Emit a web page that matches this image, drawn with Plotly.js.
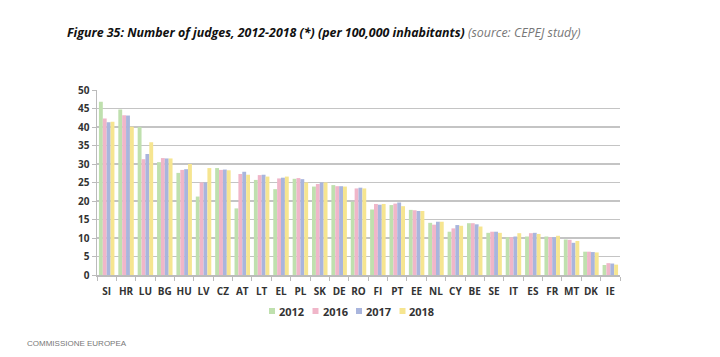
<!DOCTYPE html>
<html>
<head>
<meta charset="utf-8">
<script src="https://cdn.plot.ly/plotly-3.0.1.min.js"></script>
<style>
html,body{margin:0;padding:0;background:#fff;}
#chart{width:720px;height:357px;}
</style>
</head>
<body>
<div id="chart"></div>
<script>
const categories = ["SI","HR","LU","BG","HU","LV","CZ","AT","LT","EL","PL","SK","DE","RO","FI","PT","EE","NL","CY","BE","SE","IT","ES","FR","MT","DK","IE"];
const v2012 = [46.8,44.7,40.0,30.5,27.6,21.2,28.9,18.0,25.7,23.2,26.0,23.9,24.3,19.8,17.7,18.9,17.6,14.1,11.7,14.0,11.4,10.2,10.4,10.4,9.6,6.3,2.7];
const v2016 = [42.3,43.2,31.3,31.6,28.4,25.0,28.4,27.3,27.0,26.1,26.2,24.6,24.0,23.4,19.2,19.3,17.5,13.6,12.6,14.0,11.7,10.2,11.3,10.2,9.5,6.3,3.2];
const v2017 = [41.3,43.1,32.7,31.5,28.6,25.0,28.5,27.9,27.1,26.3,25.9,25.0,24.0,23.6,19.0,19.6,17.3,14.4,13.5,13.7,11.7,10.4,11.4,10.2,8.7,6.2,3.1];
const v2018 = [41.4,40.1,35.9,31.5,30.0,28.9,28.3,27.1,26.6,26.6,25.0,25.0,23.9,23.4,19.2,18.6,17.3,14.4,13.3,13.1,11.4,11.3,11.1,10.6,9.2,6.1,2.8];
const seriesNames = ["2012","2016","2017","2018"];
const seriesColors = ["#bfe0ae","#f0b6c9","#a9b5dd","#f6e590"];
const yTicks = [0,5,10,15,20,25,30,35,40,45,50];

const seriesValues = [v2012, v2016, v2017, v2018];
const traces = seriesValues.map((vals, i) => ({
  type: "bar",
  x: categories,
  y: vals,
  name: seriesNames[i],
  marker: {color: seriesColors[i], line: {width: 0}},
  showlegend: false,
  hoverinfo: "x+y+name"
}));

const legendX0 = 272, legendStep = 43.5, legendY = 311;
const plotL = 97, plotR = 620, plotT = 90, plotB = 275;
const shapes = [];
const annotations = [];
seriesNames.forEach((n, i) => {
  const px = legendX0 + i * legendStep;
  shapes.push({type: "rect", xref: "paper", yref: "paper",
    x0: (px - 3 - plotL) / (plotR - plotL), x1: (px + 3 - plotL) / (plotR - plotL),
    y0: (plotB - (legendY + 3)) / (plotB - plotT), y1: (plotB - (legendY - 3)) / (plotB - plotT),
    fillcolor: seriesColors[i], line: {width: 0}});
  annotations.push({xref: "paper", yref: "paper",
    x: (px + 5 - plotL) / (plotR - plotL), y: (plotB - legendY) / (plotB - plotT),
    xanchor: "left", yanchor: "middle", showarrow: false, text: n,
    font: {family: "Open Sans, sans-serif", size: 11, color: "#333", weight: 700}});
});
annotations.push({xref: "paper", yref: "paper",
  x: (65 - plotL) / (plotR - plotL), y: (plotB - 32) / (plotB - plotT),
  xanchor: "left", yanchor: "middle", showarrow: false,
  text: "<b><i>Figure 35: Number of judges, 2012-2018 (*) (per 100,000 inhabitants)</i></b> <span style=\"color:#777\"><i>(source: CEPEJ study)</i></span>",
  font: {family: "Open Sans, sans-serif", size: 12.4, color: "#111"}});
annotations.push({xref: "paper", yref: "paper",
  x: (25 - plotL) / (plotR - plotL), y: (plotB - 343) / (plotB - plotT),
  xanchor: "left", yanchor: "middle", showarrow: false,
  text: "COMMISSIONE EUROPEA",
  font: {family: "Liberation Sans, sans-serif", size: 8, color: "#777"}});

const layout = {
  width: 720, height: 357,
  margin: {l: plotL, r: 720 - plotR, t: plotT, b: 357 - plotB, pad: 0},
  paper_bgcolor: "#fff", plot_bgcolor: "#fff",
  barmode: "group", bargap: 0.2, bargroupgap: 0,
  showlegend: false,
  xaxis: {
    type: "category", tickvals: categories, ticktext: categories, tickangle: 0,
    showline: true, linecolor: "#bbb", linewidth: 1.5,
    ticks: "outside", tickson: "boundaries", ticklen: 4, tickcolor: "#bbb", tickwidth: 1,
    ticklabelstandoff: 6,
    showgrid: false,
    tickfont: {family: "Open Sans, sans-serif", size: 10, color: "#333", weight: 700}
  },
  yaxis: {
    range: [0, 50], tickvals: yTicks,
    showline: true, linecolor: "#bbb", linewidth: 1.5,
    ticks: "outside", ticklen: 4, tickcolor: "#bbb",
    showgrid: true, gridcolor: "#c4c4c4", gridwidth: 1.5,
    zeroline: false,
    tickfont: {family: "Open Sans, sans-serif", size: 10, color: "#333", weight: 700}
  },
  shapes: shapes,
  annotations: annotations
};

Plotly.newPlot("chart", traces, layout, {displayModeBar: false, staticPlot: true});
</script>
</body>
</html>
